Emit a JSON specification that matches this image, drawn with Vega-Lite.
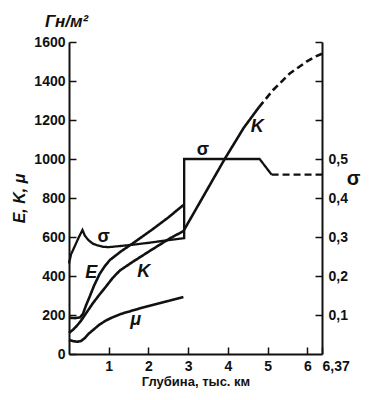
{
  "$schema": "https://vega.github.io/schema/vega-lite/v6.json",
  "width": 253,
  "height": 312,
  "autosize": {"type": "none"},
  "padding": {"left": 69, "top": 42, "right": 57, "bottom": 46},
  "background": "white",
  "config": {
    "view": {"stroke": null},
    "font": "Liberation Sans",
    "axis": {
      "grid": false,
      "domainColor": "#111",
      "domainWidth": 2,
      "tickColor": "#111",
      "tickWidth": 1.5,
      "labelColor": "#111",
      "labelFont": "Liberation Sans",
      "labelFontWeight": "bold",
      "labelFontSize": 14,
      "titleColor": "#111",
      "titleFont": "Liberation Sans",
      "titleFontWeight": "bold"
    }
  },
  "title": {
    "text": "Гн/м²",
    "anchor": "start",
    "frame": "group",
    "dx": -24,
    "offset": 4,
    "fontSize": 17,
    "fontStyle": "italic",
    "fontWeight": "bold",
    "color": "#111"
  },
  "datasets": {
    "curves": [
      {"series": "E", "segment": "reliable", "i": 1, "x": 0, "y": 186},
      {"series": "E", "segment": "reliable", "i": 2, "x": 0.15, "y": 184},
      {"series": "E", "segment": "reliable", "i": 3, "x": 0.28, "y": 188},
      {"series": "E", "segment": "reliable", "i": 4, "x": 0.35, "y": 205},
      {"series": "E", "segment": "reliable", "i": 5, "x": 0.43, "y": 250},
      {"series": "E", "segment": "reliable", "i": 6, "x": 0.52, "y": 294},
      {"series": "E", "segment": "reliable", "i": 7, "x": 0.63, "y": 350},
      {"series": "E", "segment": "reliable", "i": 8, "x": 0.77, "y": 410},
      {"series": "E", "segment": "reliable", "i": 9, "x": 0.9, "y": 450},
      {"series": "E", "segment": "reliable", "i": 10, "x": 1.03, "y": 482},
      {"series": "E", "segment": "reliable", "i": 11, "x": 1.3, "y": 525},
      {"series": "E", "segment": "reliable", "i": 12, "x": 1.61, "y": 568},
      {"series": "E", "segment": "reliable", "i": 13, "x": 2.08, "y": 636},
      {"series": "E", "segment": "reliable", "i": 14, "x": 2.5, "y": 700},
      {"series": "E", "segment": "reliable", "i": 15, "x": 2.88, "y": 764},
      {"series": "K", "segment": "reliable", "i": 1, "x": 0, "y": 108},
      {"series": "K", "segment": "reliable", "i": 2, "x": 0.1, "y": 124},
      {"series": "K", "segment": "reliable", "i": 3, "x": 0.2, "y": 145},
      {"series": "K", "segment": "reliable", "i": 4, "x": 0.3, "y": 170},
      {"series": "K", "segment": "reliable", "i": 5, "x": 0.4, "y": 200},
      {"series": "K", "segment": "reliable", "i": 6, "x": 0.5, "y": 230},
      {"series": "K", "segment": "reliable", "i": 7, "x": 0.6, "y": 260},
      {"series": "K", "segment": "reliable", "i": 8, "x": 0.75, "y": 300},
      {"series": "K", "segment": "reliable", "i": 9, "x": 0.9, "y": 338},
      {"series": "K", "segment": "reliable", "i": 10, "x": 1.1, "y": 390},
      {"series": "K", "segment": "reliable", "i": 11, "x": 1.28, "y": 428},
      {"series": "K", "segment": "reliable", "i": 12, "x": 1.6, "y": 472},
      {"series": "K", "segment": "reliable", "i": 13, "x": 2.0, "y": 524},
      {"series": "K", "segment": "reliable", "i": 14, "x": 2.54, "y": 593},
      {"series": "K", "segment": "reliable", "i": 15, "x": 2.88, "y": 630},
      {"series": "K", "segment": "reliable", "i": 16, "x": 3.4, "y": 815},
      {"series": "K", "segment": "reliable", "i": 17, "x": 3.92, "y": 1000},
      {"series": "K", "segment": "reliable", "i": 18, "x": 4.4, "y": 1160},
      {"series": "K", "segment": "reliable", "i": 19, "x": 4.78, "y": 1265},
      {"series": "K", "segment": "extrapolated", "i": 20, "x": 4.78, "y": 1265},
      {"series": "K", "segment": "extrapolated", "i": 21, "x": 5.14, "y": 1354},
      {"series": "K", "segment": "extrapolated", "i": 22, "x": 5.56, "y": 1439},
      {"series": "K", "segment": "extrapolated", "i": 23, "x": 5.98, "y": 1499},
      {"series": "K", "segment": "extrapolated", "i": 24, "x": 6.2, "y": 1525},
      {"series": "K", "segment": "extrapolated", "i": 25, "x": 6.37, "y": 1540},
      {"series": "μ", "segment": "reliable", "i": 1, "x": 0, "y": 72},
      {"series": "μ", "segment": "reliable", "i": 2, "x": 0.1, "y": 66},
      {"series": "μ", "segment": "reliable", "i": 3, "x": 0.2, "y": 63},
      {"series": "μ", "segment": "reliable", "i": 4, "x": 0.3, "y": 66},
      {"series": "μ", "segment": "reliable", "i": 5, "x": 0.4, "y": 82},
      {"series": "μ", "segment": "reliable", "i": 6, "x": 0.5, "y": 105},
      {"series": "μ", "segment": "reliable", "i": 7, "x": 0.6, "y": 122},
      {"series": "μ", "segment": "reliable", "i": 8, "x": 0.75, "y": 148},
      {"series": "μ", "segment": "reliable", "i": 9, "x": 0.9, "y": 168},
      {"series": "μ", "segment": "reliable", "i": 10, "x": 1.03, "y": 182},
      {"series": "μ", "segment": "reliable", "i": 11, "x": 1.3, "y": 205},
      {"series": "μ", "segment": "reliable", "i": 12, "x": 1.5, "y": 217},
      {"series": "μ", "segment": "reliable", "i": 13, "x": 1.8, "y": 235},
      {"series": "μ", "segment": "reliable", "i": 14, "x": 2.3, "y": 262},
      {"series": "μ", "segment": "reliable", "i": 15, "x": 2.88, "y": 292}
    ],
    "sigma": [
      {"segment": "reliable", "i": 1, "x": 0, "s": 0.232},
      {"segment": "reliable", "i": 2, "x": 0.05, "s": 0.255},
      {"segment": "reliable", "i": 3, "x": 0.13, "s": 0.273},
      {"segment": "reliable", "i": 4, "x": 0.25, "s": 0.3},
      {"segment": "reliable", "i": 5, "x": 0.34, "s": 0.318},
      {"segment": "reliable", "i": 6, "x": 0.4, "s": 0.303},
      {"segment": "reliable", "i": 7, "x": 0.5, "s": 0.291},
      {"segment": "reliable", "i": 8, "x": 0.6, "s": 0.283},
      {"segment": "reliable", "i": 9, "x": 0.7, "s": 0.279},
      {"segment": "reliable", "i": 10, "x": 0.85, "s": 0.275},
      {"segment": "reliable", "i": 11, "x": 1.0, "s": 0.274},
      {"segment": "reliable", "i": 12, "x": 1.5, "s": 0.279},
      {"segment": "reliable", "i": 13, "x": 2.0, "s": 0.285},
      {"segment": "reliable", "i": 14, "x": 2.5, "s": 0.292},
      {"segment": "reliable", "i": 15, "x": 2.9, "s": 0.297},
      {"segment": "reliable", "i": 16, "x": 2.9, "s": 0.5},
      {"segment": "reliable", "i": 17, "x": 4.8, "s": 0.5},
      {"segment": "reliable", "i": 18, "x": 5.1, "s": 0.46},
      {"segment": "extrapolated", "i": 19, "x": 5.1, "s": 0.46},
      {"segment": "extrapolated", "i": 20, "x": 6.37, "s": 0.46}
    ],
    "labels": [
      {"text": "E", "x": 0.56, "y": 415},
      {"text": "K", "x": 1.88, "y": 418},
      {"text": "K", "x": 4.74, "y": 1162},
      {"text": "μ", "x": 1.68, "y": 172},
      {"text": "σ", "x": 0.87, "y": 601},
      {"text": "σ", "x": 3.37, "y": 1046}
    ]
  },
  "encoding": {
    "x": {
      "field": "x",
      "type": "quantitative",
      "scale": {"domain": [0, 6.37], "nice": false, "zero": false},
      "axis": {
        "values": [1, 2, 3, 4, 5, 6, 6.37],
        "title": "Глубина, тыс. км",
        "titleFontSize": 13,
        "titlePadding": 2,
        "tickSize": -7,
        "labelPadding": 12,
        "labelExpr": "datum.value == 6.37 ? '6,37' : datum.label",
        "labelOverlap": false,
        "labelAlign": {"condition": {"test": "datum.value == 6.37", "value": "left"}, "value": "center"}
      }
    }
  },
  "layer": [
    {
      "encoding": {
        "y": {
          "field": "y",
          "type": "quantitative",
          "scale": {"domain": [0, 1600], "nice": false},
          "axis": {
            "values": [0, 200, 400, 600, 800, 1000, 1200, 1400, 1600],
            "format": "d",
            "title": "E, K, μ",
            "titleFontSize": 16,
            "titleFontStyle": "italic",
            "titlePadding": 6,
            "tickSize": -7,
            "labelPadding": 11,
            "labelOverlap": false
          }
        }
      },
      "layer": [
        {
          "data": {"name": "curves"},
          "mark": {"type": "line", "strokeWidth": 2.6, "color": "#111"},
          "encoding": {
            "detail": {"field": "series", "type": "nominal"},
            "strokeDash": {
              "field": "segment",
              "type": "nominal",
              "scale": {"domain": ["reliable", "extrapolated"], "range": [[1, 0], [7, 4]]},
              "legend": null
            },
            "order": {"field": "i", "type": "quantitative"}
          }
        },
        {
          "data": {"name": "labels"},
          "transform": [{"filter": "datum.text != 'σ'"}],
          "mark": {"type": "text", "fontSize": 18, "fontStyle": "italic", "fontWeight": "bold", "color": "#111", "font": "Liberation Sans"},
          "encoding": {"text": {"field": "text", "type": "nominal"}}
        },
        {
          "data": {"name": "labels"},
          "transform": [{"filter": "datum.text == 'σ'"}],
          "mark": {"type": "text", "fontSize": 18, "fontWeight": "bold", "color": "#111", "font": "Liberation Sans"},
          "encoding": {"text": {"field": "text", "type": "nominal"}}
        }
      ]
    },
    {
      "data": {"name": "sigma"},
      "mark": {"type": "line", "strokeWidth": 2.3, "color": "#111"},
      "encoding": {
        "y": {
          "field": "s",
          "type": "quantitative",
          "scale": {"domain": [0, 0.8], "nice": false},
          "axis": {
            "orient": "right",
            "values": [0.1, 0.2, 0.3, 0.4, 0.5, 0.6, 0.7, 0.8],
            "labelExpr": "datum.value <= 0.5 ? replace(format(datum.value, '.1f'), '.', ',') : ''",
            "labelOverlap": false,
            "tickSize": -7,
            "labelPadding": 13,
            "title": "σ",
            "titleAngle": 0,
            "titleX": 31,
            "titleY": 136,
            "titleAlign": "center",
            "titleBaseline": "middle",
            "titleFontSize": 20
          }
        },
        "strokeDash": {
          "field": "segment",
          "type": "nominal",
          "scale": {"domain": ["reliable", "extrapolated"], "range": [[1, 0], [7, 4]]},
          "legend": null
        },
        "order": {"field": "i", "type": "quantitative"}
      }
    }
  ],
  "resolve": {"scale": {"y": "independent"}}
}
